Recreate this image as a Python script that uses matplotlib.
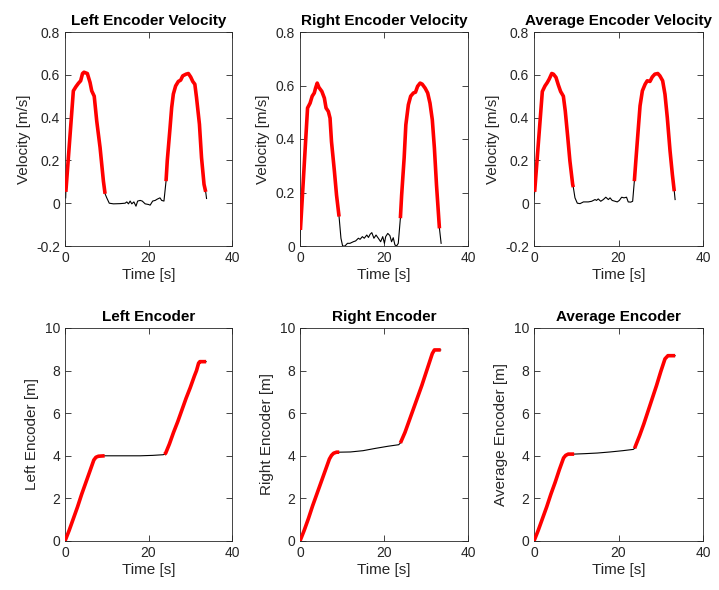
import matplotlib
matplotlib.use('Agg')
import matplotlib.pyplot as plt
import numpy as np

plt.rcParams['font.family'] = ['Liberation Sans', 'DejaVu Sans']
plt.rcParams['font.size'] = 10

# ---- velocity logs [s], [m/s] ----
t_vel_left = [0.16, 0.2, 2.0, 2.6, 3.2, 3.75, 4.2, 4.55, 5.35, 6.0, 6.4, 7.0, 7.6, 8.4, 9.2, 9.6,
              10.0, 10.6, 11.6, 13.2, 14.4, 14.8, 15.2, 15.6, 16.0, 16.5, 17.0, 17.4, 18.0, 18.5,
              19.2, 20.0, 20.4, 21.0, 21.6, 22.1, 22.75, 23.15, 23.7, 24.2,
              24.5, 25.15, 25.55, 25.95, 26.5, 27.15, 27.7, 28.2, 29.0, 29.55, 30.1, 30.6, 31.1,
              31.5, 32.2, 32.7, 33.3, 33.7, 33.9]
v_left = [0.025, 0.053, 0.525, 0.544, 0.56, 0.572, 0.606, 0.612, 0.606, 0.564, 0.525, 0.50, 0.384,
          0.26, 0.103, 0.044,
          0.025, 0.0, -0.003, -0.002, 0.0, 0.006, -0.003, 0.01, -0.003, 0.006, -0.014, 0.01, 0.013,
          0.01, -0.003, -0.006, -0.009, 0.01, 0.013, 0.019, 0.025, 0.013, 0.01, 0.103,
          0.2, 0.35, 0.447, 0.51, 0.548, 0.569, 0.575, 0.595, 0.603, 0.606, 0.59, 0.569, 0.556,
          0.494, 0.369, 0.213, 0.088, 0.053, 0.022]
moving_vel_left = [(0.2, 9.6), (24.2, 33.7)]

t_vel_right = [0.0, 0.1, 1.8, 2.4, 2.9, 3.4, 3.7, 4.1, 4.5, 5.2, 5.8, 6.2, 6.75, 7.15, 7.5, 8.2, 8.7,
               9.3, 9.75, 10.15, 10.7, 11.3, 11.9, 12.7, 13.25, 13.9, 14.3, 14.85, 15.3, 15.9,
               16.3, 16.7, 17.1, 17.6, 18.1, 18.65, 19.2, 19.7, 20.1, 20.4, 20.9, 21.4, 21.8,
               22.2, 22.6, 23.0, 23.4, 23.9,
               24.2, 24.8, 25.2, 25.8, 26.35, 27.0, 27.5, 28.0, 28.6, 29.1, 29.8, 30.4, 30.95,
               31.5, 32.0, 32.5, 33.2, 33.6]
v_right = [0.016, 0.06, 0.516, 0.534, 0.56, 0.572, 0.59, 0.609, 0.593, 0.578, 0.553, 0.516, 0.503,
           0.478, 0.39, 0.278, 0.19, 0.11,
           0.029, 0.0, 0.0, 0.01, 0.01, 0.016, 0.019, 0.029, 0.025, 0.035, 0.029, 0.041, 0.032,
           0.044, 0.05, 0.029, 0.041, 0.029, 0.016, 0.035, 0.01, 0.035, 0.047, 0.039, 0.016,
           0.031, 0.004, 0.0, 0.01, 0.104,
           0.19, 0.33, 0.453, 0.528, 0.56, 0.572, 0.575, 0.597, 0.609, 0.605, 0.59, 0.572, 0.534,
           0.472, 0.366, 0.228, 0.066, 0.01]
moving_vel_right = [(0.1, 9.3), (23.9, 33.2)]

t_vel_avg = [0.0, 0.15, 1.97, 2.6, 3.15, 3.6, 4.2, 4.6, 5.2, 5.75, 6.3, 6.95, 7.4, 8.0, 8.5, 9.15,
             9.3, 9.7, 10.25, 10.9, 11.7, 12.85, 13.65, 14.45, 14.8, 15.2, 15.8, 16.4, 17.0,
             17.6, 18.0, 18.5, 19.2, 19.7, 20.2, 20.75, 21.3, 21.9, 22.3, 22.9, 23.35, 23.75,
             24.1, 24.7, 25.1, 25.65, 26.3, 26.8, 27.45, 28.0, 28.6, 29.3, 29.8, 30.45, 31.0,
             31.55, 32.2, 32.75, 33.2, 33.4]
v_avg = [0.017, 0.053, 0.522, 0.548, 0.564, 0.58, 0.606, 0.603, 0.588, 0.553, 0.522, 0.50, 0.431,
         0.306, 0.197, 0.088, 0.075,
         0.025, 0.0, -0.002, 0.006, 0.006, 0.009, 0.017, 0.013, 0.02, 0.009, 0.017, 0.028,
         0.017, 0.025, 0.013, 0.009, 0.006, 0.013, 0.028, 0.025, 0.028, 0.006, 0.005, 0.009,
         0.103,
         0.197, 0.353, 0.455, 0.525, 0.556, 0.572, 0.569, 0.59, 0.603, 0.606, 0.595, 0.572,
         0.509, 0.40, 0.244, 0.134, 0.056, 0.017]
moving_vel_avg = [(0.15, 9.3), (23.75, 33.2)]

# ---- encoder distance logs [s], [m] ----
t_pos_left = [0, 1, 2, 3, 4, 5, 6, 6.9, 7.4, 8.0, 9.5, 12, 15, 18, 21, 23.5, 23.8, 24.1, 25, 26,
              27, 28, 29, 30, 31, 31.5, 32.0, 32.3, 33.8]
pos_left = [0.0, 0.5, 1.05, 1.6, 2.2, 2.75, 3.3, 3.8, 3.93, 3.98, 4.0, 4.0, 4.0, 4.0, 4.02, 4.05,
            4.07, 4.12, 4.55, 5.1, 5.6, 6.15, 6.7, 7.2, 7.75, 8.0, 8.35, 8.42, 8.42]
moving_pos_left = [(0.0, 9.5), (23.8, 33.8)]

t_pos_right = [0, 1, 2, 3, 4, 5, 6, 7, 7.5, 8.0, 8.7, 9.35, 12, 15, 18, 21, 23.5, 23.9, 25, 26,
               27, 28, 29, 30, 31, 31.5, 32.0, 33.5]
pos_right = [0.0, 0.5, 1.05, 1.65, 2.2, 2.75, 3.3, 3.85, 4.02, 4.12, 4.17, 4.17, 4.18, 4.24, 4.35,
             4.45, 4.52, 4.6, 5.1, 5.65, 6.2, 6.75, 7.3, 7.9, 8.5, 8.8, 8.97, 8.97]
moving_pos_right = [(0.0, 9.35), (23.9, 33.5)]

t_pos_avg = [0, 1, 2, 3, 4, 5, 6, 7, 7.5, 8.1, 9.5, 12, 15, 18, 21, 23.5, 23.8, 25, 26, 27, 28,
             29, 30, 31, 31.7, 33.4]
pos_avg = [0.0, 0.5, 1.05, 1.6, 2.2, 2.75, 3.35, 3.9, 4.02, 4.08, 4.08, 4.1, 4.13, 4.18, 4.24, 4.3,
           4.35, 4.95, 5.5, 6.1, 6.7, 7.3, 7.95, 8.55, 8.7, 8.7]
moving_pos_avg = [(0.0, 9.5), (23.8, 33.4)]

panels = [
    (t_vel_left, v_left, moving_vel_left, 'Left Encoder Velocity', 'Velocity [m/s]', (-0.2, 0.8), 0.2),
    (t_vel_right, v_right, moving_vel_right, 'Right Encoder Velocity', 'Velocity [m/s]', (0, 0.8), 0.2),
    (t_vel_avg, v_avg, moving_vel_avg, 'Average Encoder Velocity', 'Velocity [m/s]', (-0.2, 0.8), 0.2),
    (t_pos_left, pos_left, moving_pos_left, 'Left Encoder', 'Left Encoder [m]', (0, 10), 2),
    (t_pos_right, pos_right, moving_pos_right, 'Right Encoder', 'Right Encoder [m]', (0, 10), 2),
    (t_pos_avg, pos_avg, moving_pos_avg, 'Average Encoder', 'Average Encoder [m]', (0, 10), 2),
]

W, H = 719, 590
lefts = [65, 300, 534]
widths = [167, 168, 169]
rows = [(32, 246), (328, 541)]

fig = plt.figure(figsize=(W / 100, H / 100), dpi=100)
grey = '#262626'

for i, (t, y, windows, title, ylabel, ylim, ystep) in enumerate(panels):
    r, c = divmod(i, 3)
    top, bottom = rows[r]
    ax = fig.add_axes([lefts[c] / W, 1 - bottom / H, widths[c] / W, (bottom - top) / H])
    t = np.array(t)
    y = np.array(y)
    # whole log in black, moving phases drawn over in red
    ax.plot(t, y, color='black', lw=0.8, zorder=2)
    for t0, t1 in windows:
        sel = (t >= t0) & (t <= t1)
        ax.plot(t[sel], y[sel], color='red', lw=2.6, solid_capstyle='butt',
                solid_joinstyle='round', zorder=3)
    ax.set_xlim(0, 40)
    ax.set_ylim(*ylim)
    ax.set_xticks([0, 20, 40])
    ax.set_yticks(np.round(np.arange(ylim[0], ylim[1] + 1e-9, ystep), 2))
    ax.yaxis.set_major_formatter(plt.FuncFormatter(lambda v, p: f'{v:g}'))
    ax.tick_params(direction='in', top=True, right=True, length=4, width=0.6,
                   colors=grey, labelsize=10, labelcolor=grey)
    for s in ax.spines.values():
        s.set_color(grey)
        s.set_linewidth(0.6)
    ax.set_title(title, fontsize=11, fontweight='bold', pad=5)
    ax.set_xlabel('Time [s]', fontsize=11, color=grey, labelpad=2)
    ax.set_ylabel(ylabel, fontsize=11, color=grey, labelpad=4)

plt.savefig('out.png', dpi=100)
